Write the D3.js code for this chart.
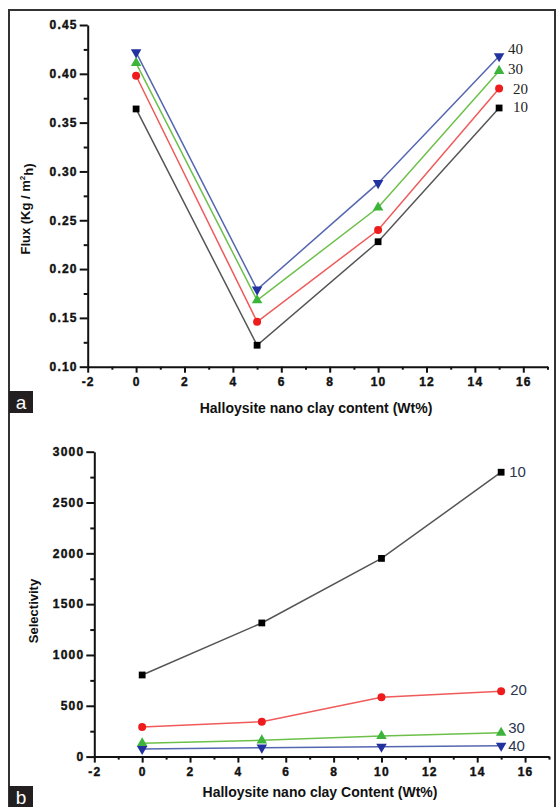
<!DOCTYPE html>
<html>
<head>
<meta charset="utf-8">
<script src="https://cdn.jsdelivr.net/npm/d3@7"></script>
<style>
  html, body { margin: 0; padding: 0; background: #fff; }
  svg { display: block; }
  .tick text { font-family: "Liberation Sans", Arial, sans-serif; font-weight: bold; font-size: 12px; letter-spacing: 1.2px; fill: #111; stroke: #111; stroke-width: 0.4px; }
</style>
</head>
<body>
<div id="chart"></div>
<script>
// wt% of halloysite nano clay
const clay = [0, 5, 10, 15];
const seriesNames = ['10', '20', '30', '40'];

// panel a: flux (Kg / m2h)
const flux10 = [0.364, 0.122, 0.228, 0.365];
const flux20 = [0.398, 0.146, 0.240, 0.385];
const flux30 = [0.411, 0.168, 0.263, 0.403];
const flux40 = [0.422, 0.179, 0.288, 0.418];

// panel b: selectivity
const sel10 = [803, 1315, 1950, 2798];
const sel20 = [291, 343, 584, 643];
const sel30 = [131, 160, 203, 235];
const sel40 = [75, 88, 97, 107];

const xTicks = [-2, 0, 2, 4, 6, 8, 10, 12, 14, 16];
const xMinor = [-1, 1, 3, 5, 7, 9, 11, 13, 15, 17];
const fluxTicks = [0.10, 0.15, 0.20, 0.25, 0.30, 0.35, 0.40, 0.45];
const fluxMinor = [0.125, 0.175, 0.225, 0.275, 0.325, 0.375, 0.425];
const selTicks = [0, 500, 1000, 1500, 2000, 2500, 3000];
const selMinor = [250, 750, 1250, 1750, 2250, 2750];

const lineColor = {'10': '#555', '20': '#f05a5a', '30': '#6cc04a', '40': '#5566b0'};
const markColor = {'10': '#000', '20': '#ee1c1c', '30': '#3cb43c', '40': '#2233a0'};
const markShape = {'10': d3.symbolSquare, '20': d3.symbolCircle, '30': d3.symbolTriangle, '40': d3.symbolTriangle};

const W = 557, H = 807;
const svg = d3.select('#chart').append('svg').attr('width', W).attr('height', H);

// outer frame
svg.append('path')
   .attr('d', `M9,${H} V10 H555 V${H}`)
   .attr('fill', 'none')
   .attr('stroke', '#333')
   .attr('stroke-width', 2);

const hyphenInt = d => String(d);   // plain hyphen for negatives, like the original

function panel(opt) {
    const x = d3.scaleLinear().domain([-2, 17]).range(opt.xr);
    const y = d3.scaleLinear().domain(opt.yd).range(opt.yr);
    const g = svg.append('g');

    // minor ticks
    g.append('g')
     .attr('transform', `translate(0,${opt.yr[0]})`)
     .call(d3.axisBottom(x).tickValues(xMinor).tickSize(3).tickFormat(''))
     .call(s => s.select('.domain').remove());
    g.append('g')
     .attr('transform', `translate(${opt.xr[0]},0)`)
     .call(d3.axisLeft(y).tickValues(opt.minor).tickSize(4).tickFormat(''))
     .call(s => s.select('.domain').remove());

    g.append('g')
     .attr('transform', `translate(0,${opt.yr[0]})`)
     .call(d3.axisBottom(x).tickValues(xTicks).tickSize(6).tickPadding(5).tickSizeOuter(0).tickFormat(hyphenInt));
    g.append('g')
     .attr('transform', `translate(${opt.xr[0]},0)`)
     .call(d3.axisLeft(y).tickValues(opt.ticks).tickSize(8).tickPadding(2).tickSizeOuter(0).tickFormat(opt.fmt));

    g.selectAll('.domain, .tick line').attr('stroke', '#111').attr('stroke-width', 2);
    g.selectAll('.tick text').attr('font-family', null).attr('font-size', null);

    opt.series.forEach((vals, i) => {
        const name = seriesNames[i];
        const pts = clay.map((c, j) => [c, vals[j]]);
        g.append('path')
         .datum(pts)
         .attr('fill', 'none')
         .attr('stroke', lineColor[name])
         .attr('stroke-width', 1.5)
         .attr('d', d3.line().x(d => x(d[0])).y(d => y(d[1])));

        g.selectAll(null)
         .data(pts)
         .join('path')
         .attr('transform', d => `translate(${x(d[0])},${y(d[1])})` + (name === '40' ? ' rotate(180)' : ''))
         .attr('fill', markColor[name])
         .attr('d', d3.symbol().type(markShape[name]).size(name === '10' ? 46 : (name === '20' ? 50 : 48)));

        const last = pts[pts.length - 1];
        g.append('text')
         .attr('x', x(last[0]) + opt.labelDx[name])
         .attr('y', y(last[1]) + opt.labelDy[name])
         .attr('dy', '0.35em')
         .attr('font-family', opt.labelFont)
         .attr('font-size', opt.labelSize)
         .attr('fill', opt.labelFill)
         .text(name);
    });

    // axis titles
    g.append('text')
     .attr('x', opt.xtPos[0]).attr('y', opt.xtPos[1])
     .attr('text-anchor', 'middle')
     .attr('dy', '0.35em')
     .attr('font-family', '"Liberation Sans", Arial, sans-serif')
     .attr('font-weight', 'bold')
     .attr('font-size', 14)
     .attr('fill', '#111')
     .text(opt.xTitle);

    const yt = g.append('text')
     .attr('transform', `translate(${opt.ytPos[0]},${opt.ytPos[1]}) rotate(-90)`)
     .attr('text-anchor', 'middle')
     .attr('dy', '0.35em')
     .attr('font-family', '"Liberation Sans", Arial, sans-serif')
     .attr('font-weight', 'bold')
     .attr('font-size', opt.ytSize)
     .attr('fill', '#111');
    opt.yTitle(yt);

    // panel letter
    g.append('rect')
     .attr('x', 9).attr('y', opt.letterY).attr('width', 24).attr('height', 22)
     .attr('fill', '#231f20');
    g.append('text')
     .attr('x', 21).attr('y', opt.letterY + 11)
     .attr('text-anchor', 'middle').attr('dy', '0.35em')
     .attr('font-family', '"Liberation Sans", Arial, sans-serif')
     .attr('font-size', 19)
     .attr('fill', '#fff')
     .text(opt.letter);
}

panel({
    xr: [87.7, 547.5],
    yd: [0.10, 0.45],
    yr: [366.7, 25],
    ticks: fluxTicks,
    minor: fluxMinor,
    fmt: d3.format('.2f'),
    series: [flux10, flux20, flux30, flux40],
    labelDx: {'10': 14, '20': 14, '30': 9, '40': 9},
    labelDy: {'10': -1, '20': 0, '30': -2, '40': -7},
    labelFont: '"Liberation Serif", "Times New Roman", serif',
    labelSize: 15,
    labelFill: '#222',
    xTitle: 'Halloysite nano clay content (Wt%)',
    xtPos: [316, 408],
    ytPos: [25, 209],
    ytSize: 13,
    yTitle: t => {
        t.append('tspan').text('Flux (Kg / m');
        t.append('tspan').attr('font-size', 8).attr('dy', '-0.6em').text('2');
        t.append('tspan').attr('dy', '0.6em').text('h)');
    },
    letter: 'a',
    letterY: 391
});

panel({
    xr: [94.3, 549],
    yd: [0, 3000],
    yr: [756.6, 451.7],
    ticks: selTicks,
    minor: selMinor,
    fmt: d3.format('d'),
    series: [sel10, sel20, sel30, sel40],
    labelDx: {'10': 8, '20': 9, '30': 7, '40': 7},
    labelDy: {'10': 0, '20': -1, '30': -5, '40': 0},
    labelFont: '"Liberation Sans", Arial, sans-serif',
    labelSize: 15,
    labelFill: '#2b3552',
    xTitle: 'Halloysite nano clay Content (Wt%)',
    xtPos: [320, 792],
    ytPos: [33, 611],
    ytSize: 13,
    yTitle: t => t.text('Selectivity'),
    letter: 'b',
    letterY: 786
});
</script>
</body>
</html>
